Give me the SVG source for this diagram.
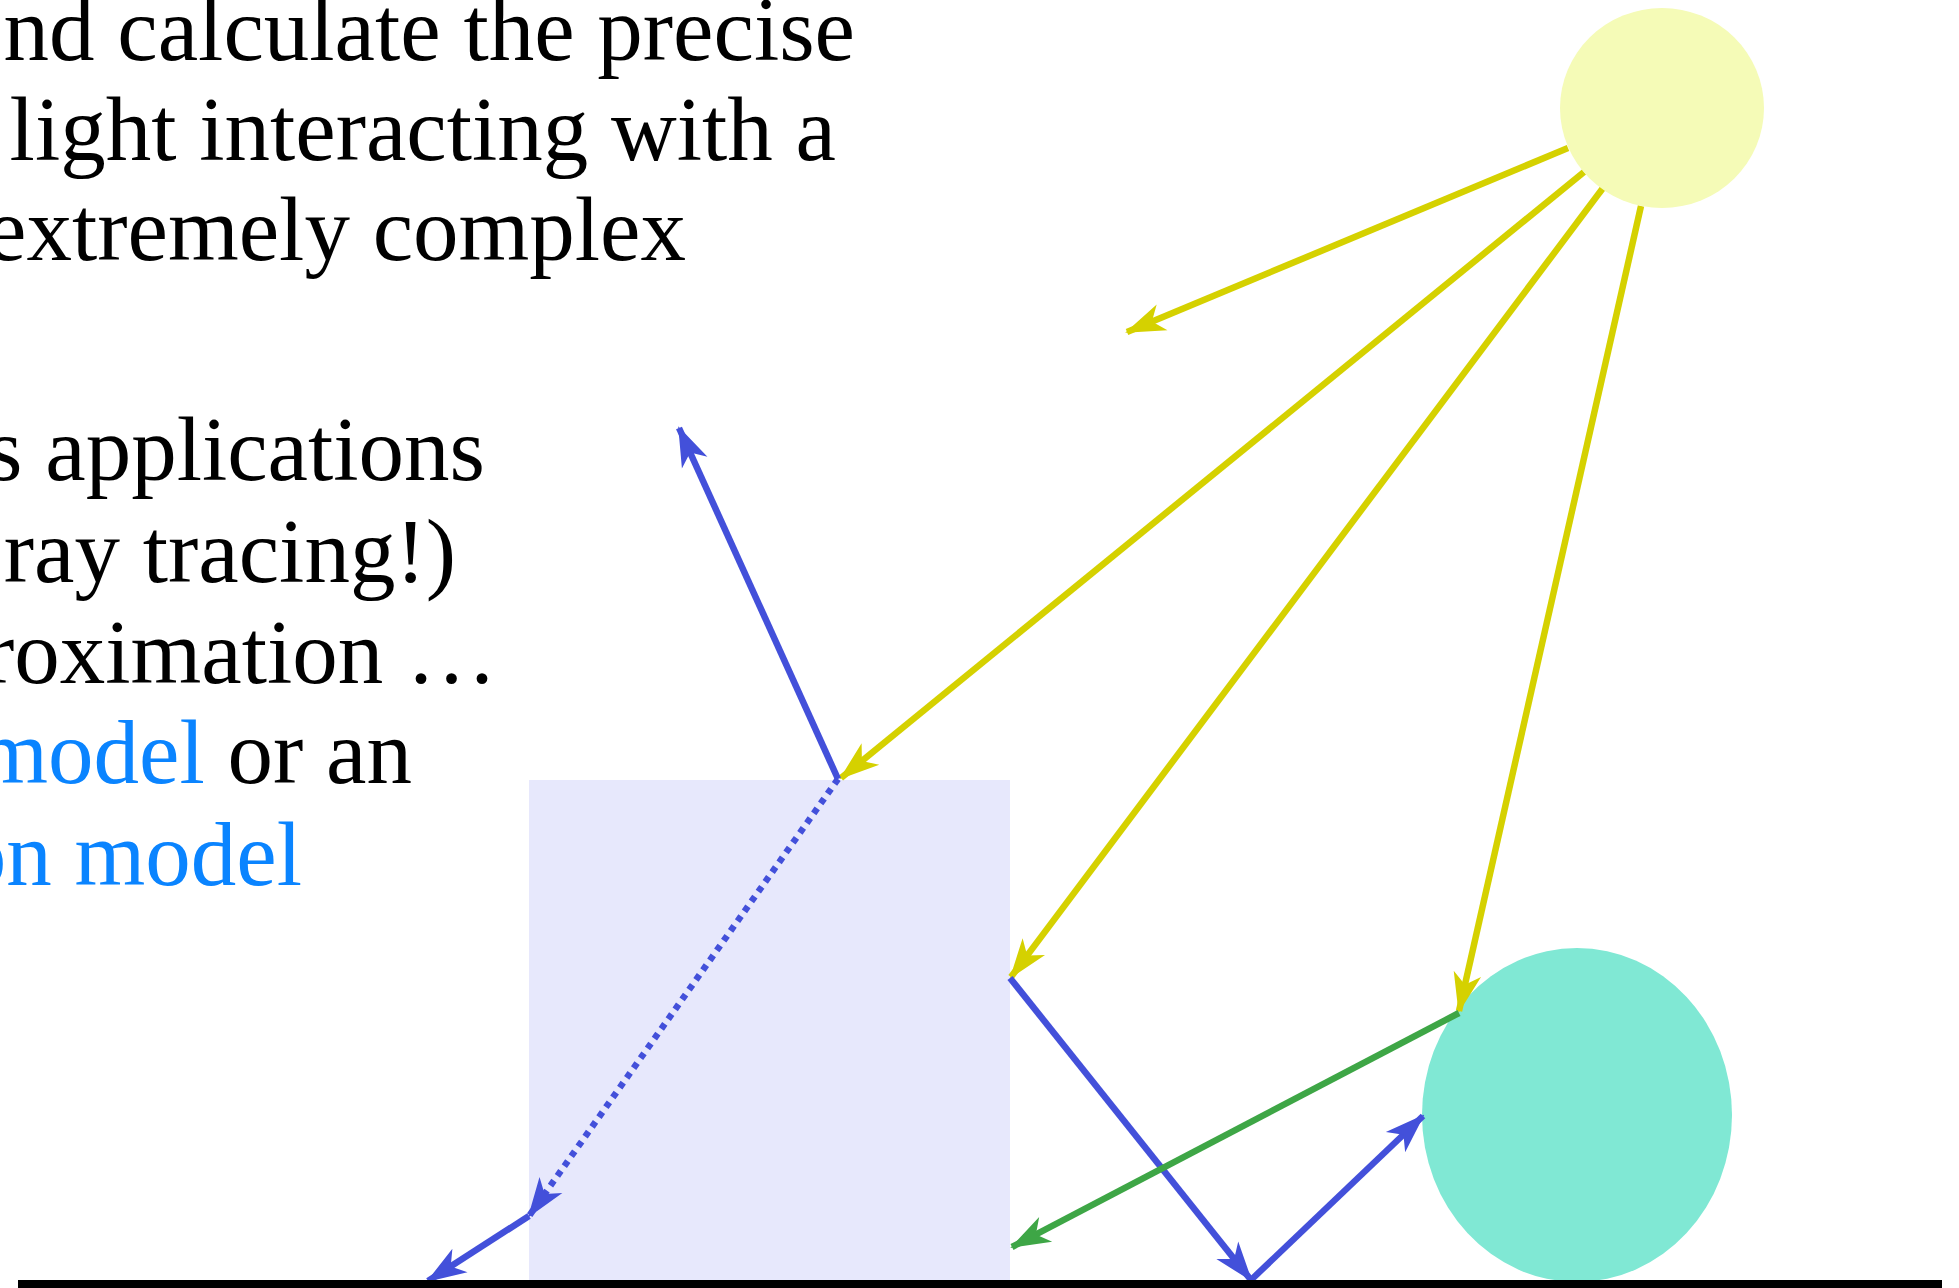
<svg xmlns="http://www.w3.org/2000/svg" width="1959" height="1288" viewBox="0 0 1959 1288">
<style>
.txt{font-family:"Liberation Serif","Times New Roman",serif;font-size:91px;fill:#000;}
.hl{fill:#0a84ff;}
.ray{fill:none;stroke-width:6.5;stroke-linecap:butt;}
.y{stroke:#d5d100;}
.b{stroke:#4350da;}
.g{stroke:#3ea646;}
</style>
<defs>
<marker id="ay" viewBox="-44 -17 46 34" markerWidth="46" markerHeight="34" refX="0" refY="0" orient="auto" markerUnits="userSpaceOnUse"><path d="M2,0 L-38,-14 L-27,0 L-38,14 Z" fill="#d5d100"/></marker>
<marker id="ab" viewBox="-44 -17 46 34" markerWidth="46" markerHeight="34" refX="0" refY="0" orient="auto" markerUnits="userSpaceOnUse"><path d="M2,0 L-38,-14 L-27,0 L-38,14 Z" fill="#4350da"/></marker>
<marker id="ag" viewBox="-44 -17 46 34" markerWidth="46" markerHeight="34" refX="0" refY="0" orient="auto" markerUnits="userSpaceOnUse"><path d="M2,0 L-38,-14 L-27,0 L-38,14 Z" fill="#3ea646"/></marker>
</defs>
<rect width="1959" height="1288" fill="#fff"/>
<g id="text">
<text class="txt" text-anchor="end" x="855" y="60">nd calculate the precise</text>
<text class="txt" text-anchor="end" x="836" y="160">light interacting with a</text>
<text class="txt" text-anchor="end" x="686" y="260">extremely complex</text>
<text class="txt" text-anchor="end" x="485" y="480">s applications</text>
<text class="txt" text-anchor="end" x="456" y="582">ray tracing!)</text>
<text class="txt" text-anchor="end" x="497" y="683">roximation …</text>
<text class="txt" text-anchor="end" x="412" y="783"><tspan class="hl">model</tspan> or an</text>
<text class="txt hl" text-anchor="end" x="302" y="885">on model</text>
</g>
<g id="block"><rect x="529" y="780" width="481" height="500" fill="#e7e8fc"/></g>
<g id="ball"><ellipse cx="1577" cy="1115" rx="155" ry="167" fill="#80e8d4"/></g>
<g id="connectors">
<line class="ray y" x1="1568" y1="148" x2="1127" y2="332" marker-end="url(#ay)"/>
<line class="ray y" x1="1584" y1="172" x2="841" y2="778" marker-end="url(#ay)"/>
<line class="ray y" x1="1603" y1="188" x2="1011" y2="977" marker-end="url(#ay)"/>
<line class="ray y" x1="1641" y1="206" x2="1459" y2="1011" marker-end="url(#ay)"/>
<line class="ray b" x1="838" y1="779" x2="679" y2="428" marker-end="url(#ab)"/>
<line class="ray b" x1="838" y1="779" x2="529" y2="1216" stroke-dasharray="6,6" marker-end="url(#ab)"/>
<line class="ray b" x1="529" y1="1216" x2="428" y2="1281" marker-end="url(#ab)"/>
<line class="ray b" x1="1010" y1="978" x2="1251" y2="1280" marker-end="url(#ab)"/>
<line class="ray b" x1="1251" y1="1280" x2="1423" y2="1116" marker-end="url(#ab)"/>
<line class="ray g" x1="1459" y1="1013" x2="1012" y2="1247" marker-end="url(#ag)"/>
</g>
<g id="sun"><ellipse cx="1662" cy="108" rx="102" ry="100" fill="#f5fbb7"/></g>
<g id="ground"><rect x="18" y="1280" width="1924" height="8" fill="#000"/></g>
</svg>
